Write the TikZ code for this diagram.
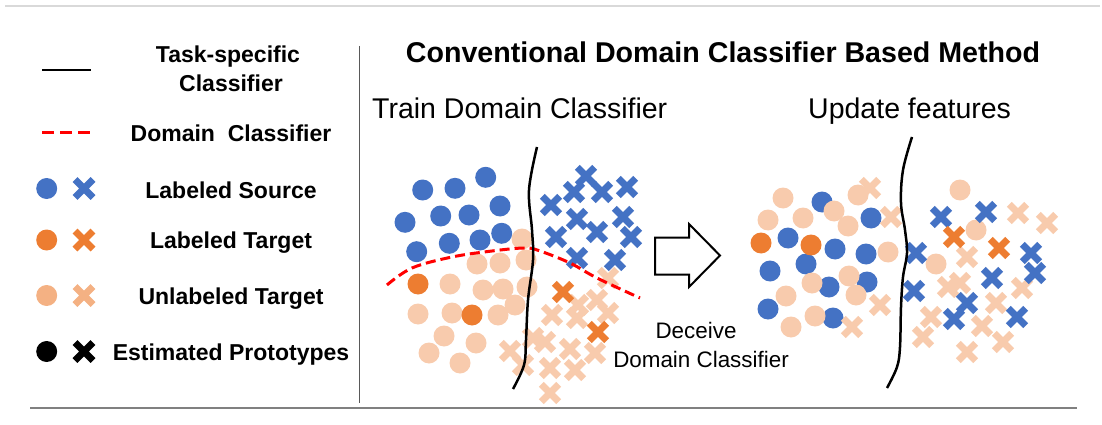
\documentclass[tikz,border=0pt]{standalone}
\usepackage{fontspec}
\setmainfont{Liberation Sans}
\definecolor{cblue}{HTML}{4472C4}
\definecolor{corange}{HTML}{ED7D31}
\definecolor{clight}{HTML}{F8CBAD}
\definecolor{clightleg}{HTML}{F4B183}
\definecolor{cred}{HTML}{FF0000}
\begin{document}
\begin{tikzpicture}[x=1pt,y=-1pt,
  xmk/.pic={\draw[line width=6.8pt] (-8.7,-8.7)--(8.7,8.7) (-8.7,8.7)--(8.7,-8.7);},
  legx/.pic={\draw[line width=7pt] (-9,-9)--(9,9) (-9,9)--(9,-9);},
  legtext/.style={font=\fontsize{23}{27}\selectfont\bfseries, anchor=base, inner sep=0pt},
  subtitle/.style={font=\fontsize{28.5}{32}\selectfont, anchor=base west, inner sep=0pt},
  smalltext/.style={font=\fontsize{22.4}{26}\selectfont, anchor=base, inner sep=0pt},
  taskline/.style={line width=2.5pt, black},
  domline/.style={line width=3pt, cred, dash pattern=on 10pt off 5pt}]
\useasboundingbox (0,0) rectangle (1102,425);

% frame lines
\draw[line width=1.2pt, black!15] (5,6) -- (1100,6);
\draw[line width=2pt, black!50] (30,408) -- (1077,408);
\draw[line width=1.5pt, black!65] (359.5,46) -- (359.5,403);

% legend
\draw[line width=2pt] (42,70) -- (91,70);
\node[legtext] (lt1) at (228,63) {Task-specific};
\node[legtext] (lt2) at (231,91.5) {Classifier};
\draw[line width=3pt, cred, dash pattern=on 12pt off 6pt] (42,132.5) -- (92,132.5);
\node[legtext] (lt3) at (231,141.5) {Domain\ \ Classifier};
\fill[cblue] (46.7,188.5) circle[radius=10.5pt];
\pic[color=cblue] at (84,188.5) {legx};
\node[legtext] (lt4) at (231,198.3) {Labeled Source};
\fill[corange] (46.7,240) circle[radius=10.5pt];
\pic[color=corange] at (84,240) {legx};
\node[legtext] (lt5) at (231,248.3) {Labeled Target};
\fill[clightleg] (46.7,295.5) circle[radius=10.5pt];
\pic[color=clightleg] at (84,295.5) {legx};
\node[legtext] (lt6) at (231,304) {Unlabeled Target};
\fill[black] (46.7,351.5) circle[radius=10.5pt];
\pic[color=black] at (84,351.5) {legx};
\node[legtext] (lt7) at (231,360) {Estimated Prototypes};

% titles
\node[font=\fontsize{28.6}{32}\selectfont\bfseries, anchor=base, inner sep=0pt] (title) at (723,63) {Conventional Domain Classifier Based Method};
\node[subtitle] (st1) at (372,118) {Train Domain Classifier};
\node[subtitle] (st2) at (808,118) {Update features};

% ---- left scene ----
\foreach \x/\y in {522/239,477/264,500/263,526/260,450/284,483/290,503/289,527/287,515/305,418/314,452/313,498/315,444/336,476/343,429/353,460/363}
  \fill[clight] (\x,\y) circle[radius=10.5pt];
\foreach \x/\y in {422.7/190,455/188.3,485.7/177.3,500/206,405/222.3,440.7/216,469/215,501.7/233.3,416.7/251.7,449.3/243.3,480/240}
  \fill[cblue] (\x,\y) circle[radius=10.5pt];
\foreach \x/\y in {418/284,472/315}
  \fill[corange] (\x,\y) circle[radius=10.5pt];
\foreach \x/\y in {586/176,574/192,602/192,627/187,551/205,577/219,623/217,597/232,556/237,631/237,577/258,615/260}
  \pic[color=cblue] at (\x,\y) {xmk};
\foreach \x/\y in {608/278,597/300,578/305,608/313,552/315,577/318,510/351,523/365,533/338,545/342,550/368,570/349,575/370,595/353,550/393}
  \pic[color=clight] at (\x,\y) {xmk};
\foreach \x/\y in {563/292,598/332}
  \pic[color=corange] at (\x,\y) {xmk};
\draw[domline] plot[smooth, tension=0.6] coordinates {(387,285) (412,268) (452,257) (492,251) (525,248) (540,251) (570,263) (597,278) (640,298)};
\draw[taskline] plot[smooth, tension=0.6] coordinates {(537,147) (529,190) (532,230) (533,260) (528,300) (526,340) (524,365) (513,389)};

% arrow
\draw[line width=2pt, line join=miter] (655,237.5) -- (689,237.5) -- (689,224) -- (720,255.5) -- (689,287) -- (689,274.5) -- (655,274.5) -- cycle;
\node[smalltext] (dc1) at (696,338.3) {Deceive};
\node[smalltext] (dc2) at (701,367.7) {Domain Classifier};

% ---- right scene ----
\foreach \x/\y in {822/202,871/218,788/238,835/249,866/254,770/271,806/264,829/287,867/282,768/309,833/318}
  \fill[cblue] (\x,\y) circle[radius=10.5pt];
\foreach \x/\y in {761/243,811/245}
  \fill[corange] (\x,\y) circle[radius=10.5pt];
\foreach \x/\y in {783/198,768/220,803/218,834/211,848/226,858/195,888/252,812/283,849/276,856/295,786/296,815/316,791/327,960/190,976/230,936/264}
  \fill[clight] (\x,\y) circle[radius=10.5pt];
\foreach \x/\y in {870/188,891/217,880/305,852/327,1018/213,1047/223,967/257,948/287,960/283,1022/288,996/303,931/317,982/326,923/337,1003/342,967/352}
  \pic[color=clight] at (\x,\y) {xmk};
\foreach \x/\y in {941/217,986/212,916/253,1031/253,1035/273,992/278,914/291,967/303,954/319,1017/317}
  \pic[color=cblue] at (\x,\y) {xmk};
\foreach \x/\y in {954/237,999/248}
  \pic[color=corange] at (\x,\y) {xmk};
\draw[taskline] plot[smooth, tension=0.6] coordinates {(912,137) (903,170) (901,203) (905,230) (907,253) (903,277) (901,307) (900,347) (897,367) (887,388)};
\end{tikzpicture}
\end{document}
